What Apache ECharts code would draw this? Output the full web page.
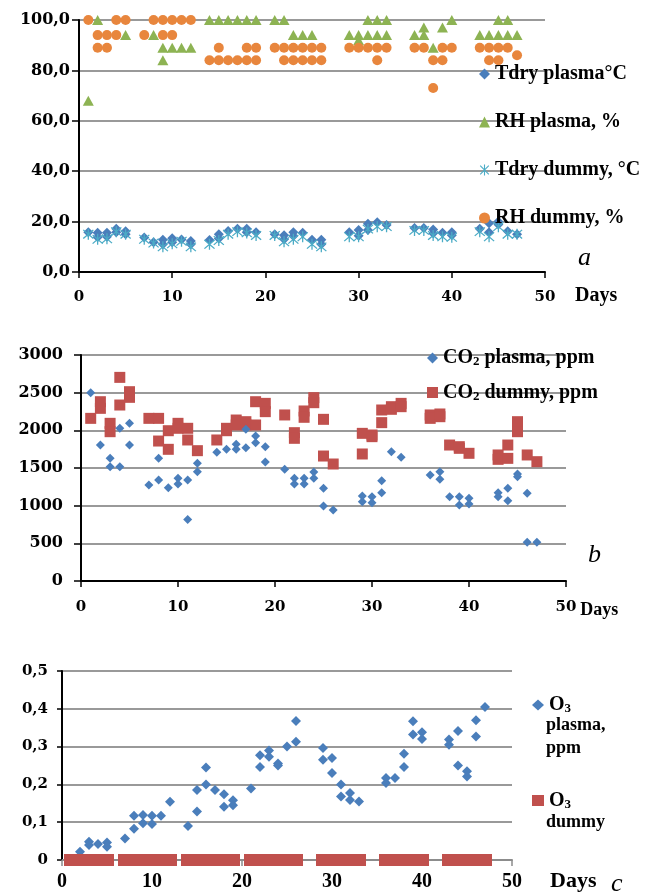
<!DOCTYPE html>
<html><head><meta charset="utf-8">
<script src="https://cdn.jsdelivr.net/npm/echarts@6/dist/echarts.min.js"></script>
<style>html,body{margin:0;padding:0;background:#fff}#c{width:654px;height:895px;background:#fff}</style>
</head><body><div id="c"></div>
<script>
// ---------- DATA ----------
const xTicks = [0, 10, 20, 30, 40, 50];
const measureDays = [1,2,3,4,5,7,8,9,10,11,12,14,15,16,17,18,19,21,22,23,24,25,26,29,30,31,32,33,36,37,38,39,40,43,44,45,46,47];

// panel a
const tdryPlasma = [[1,15.8],[2,15.6],[2,13.8],[3,15.6],[3,14],[4,17.2],[4,15.8],[5,16.2],[5,15],[7,13.7],[8,11.8],[9,12.8],[9,11],[10,13.4],[10,11.8],[11,12.9],[12,12.3],[12,11],[14,12.7],[15,15],[15,13.3],[16,16.3],[17,17.2],[18,17.2],[18,15.8],[19,15.8],[21,15],[22,14.6],[22,13],[23,15.8],[23,14.3],[24,15.6],[25,12.8],[26,12.8],[26,11],[29,15.8],[30,16.7],[30,14.4],[31,19.1],[31,16.7],[32,19.7],[33,18.7],[36,17.5],[37,17.5],[38,16.9],[38,15.4],[39,15.6],[40,15.8],[40,14.6],[43,17.2],[44,19.3],[44,15.8],[45,20],[45,18.8],[46,16.2],[47,15]];
const rhPlasma = [[1,68],[2,100],[5,94],[8,94],[9,89],[9,84],[10,89],[11,89],[12,89],[14,100],[15,100],[16,100],[17,100],[18,100],[19,100],[21,100],[22,100],[23,94],[24,94],[25,94],[29,94],[30,94],[30,92],[31,100],[31,94],[32,100],[32,94],[33,100],[33,94],[36,94],[37,97],[37,94],[38,89],[39,97],[40,100],[43,94],[44,94],[45,100],[45,94],[46,100],[46,94],[47,94]];
const tdryDummy = [[1,15],[2,13],[3,13.2],[4,16],[5,15],[7,13],[8,11.5],[9,10],[10,11.2],[11,12.2],[12,10],[14,11],[15,12.5],[16,15],[17,16],[18,15.5],[19,14.5],[21,14.5],[22,12],[23,13],[24,14],[25,11],[26,10],[29,14],[30,14],[31,17],[32,18],[33,18],[36,16.5],[37,16.5],[38,14.5],[39,14],[40,13.8],[43,16],[44,14],[45,18],[46,15],[47,15]];
const rhDummy = [[1,100],[2,94],[2,89],[3,94],[3,89],[4,100],[4,94],[5,100],[7,94],[8,100],[9,100],[9,94],[10,100],[10,94],[11,100],[12,100],[14,84],[15,89],[15,84],[16,84],[17,84],[18,89],[18,84],[19,89],[19,84],[21,89],[22,89],[22,84],[23,89],[23,84],[24,89],[24,84],[25,89],[25,84],[26,89],[26,84],[29,89],[30,89],[31,89],[32,89],[32,84],[33,89],[36,89],[37,89],[38,84],[38,73],[39,89],[39,84],[40,89],[43,89],[44,89],[44,84],[45,89],[45,84],[46,89],[47,86]];

// panel b
const co2Plasma = [[1,2500],[2,1805],[3,1628],[3,1518],[4,2027],[4,1518],[5,2093],[5,1805],[7,1274],[8,1628],[8,1341],[9,1239],[10,1363],[10,1288],[11,1341],[11,818],[12,1562],[12,1451],[14,1708],[15,1748],[16,1814],[16,1748],[17,2013],[17,1770],[18,1925],[18,1836],[19,1783],[19,1580],[21,1482],[22,1363],[22,1288],[23,1363],[23,1288],[24,1447],[24,1363],[25,1230],[25,995],[26,942],[29,1128],[29,1053],[30,1119],[30,1040],[31,1332],[31,1172],[32,1717],[33,1642],[36,1407],[37,1451],[37,1350],[38,1119],[39,1119],[39,1009],[40,1097],[40,1022],[43,1172],[43,1119],[44,1230],[44,1066],[45,1420],[45,1385],[46,1164],[46,513],[47,513]];
const co2Dummy = [[1,2159],[2,2380],[2,2292],[3,2093],[3,1982],[4,2703],[4,2336],[5,2513],[5,2438],[7,2159],[8,2159],[8,1858],[9,1995],[9,1748],[10,2093],[10,2027],[11,2027],[11,1872],[12,1730],[14,1872],[15,2027],[15,1995],[16,2137],[16,2071],[17,2115],[17,2071],[18,2380],[18,2071],[19,2358],[19,2248],[21,2204],[22,1969],[22,1894],[23,2257],[23,2173],[24,2434],[24,2367],[25,2146],[25,1659],[26,1553],[29,1960],[29,1686],[30,1938],[30,1916],[31,2270],[31,2102],[32,2314],[32,2279],[33,2358],[33,2314],[36,2204],[36,2159],[37,2217],[37,2181],[38,1805],[39,1783],[39,1761],[40,1695],[43,1673],[43,1615],[44,1805],[44,1628],[45,2115],[45,1982],[46,1673],[47,1584]];

// panel c
const o3Plasma = [[2,0.022],[3,0.048],[3,0.04],[4,0.042],[5,0.046],[5,0.035],[7,0.057],[8,0.117],[8,0.083],[9,0.119],[9,0.097],[10,0.117],[10,0.095],[11,0.117],[12,0.154],[14,0.09],[15,0.185],[15,0.128],[16,0.245],[16,0.2],[17,0.185],[18,0.174],[18,0.141],[19,0.158],[19,0.145],[21,0.189],[22,0.277],[22,0.246],[23,0.29],[23,0.273],[24,0.255],[24,0.25],[25,0.3],[26,0.368],[26,0.313],[29,0.296],[29,0.265],[30,0.27],[30,0.23],[31,0.2],[31,0.168],[32,0.177],[32,0.159],[33,0.155],[36,0.217],[36,0.204],[37,0.217],[38,0.281],[38,0.246],[39,0.367],[39,0.332],[40,0.338],[40,0.32],[43,0.319],[43,0.305],[44,0.341],[44,0.25],[45,0.235],[45,0.221],[46,0.37],[46,0.327],[47,0.405]];
const o3DummyValues = measureDays.map(() => 0);
const o3Dummy = measureDays.map((d, i) => [d, o3DummyValues[i]]);

// ---------- CHART ----------
const SERIF = 'Liberation Serif';
const WIDE = 'DejaVu Serif';
const GRIDCOLOR = '#999999';
const ASTER = 'path://M9,0 L11,0 L11,20 L9,20 Z M1.5,2.9 L2.9,1.5 L18.5,17.1 L17.1,18.5 Z M17.1,1.5 L18.5,2.9 L2.9,18.5 L1.5,17.1 Z';
const gridLine = () => ({show: true, lineStyle: {color: GRIDCOLOR, width: 2, type: 'solid'}});
const blackLine = () => ({show: true, onZero: false, lineStyle: {color: '#000', width: 2}});
const subRich = {
  n: {fontFamily: SERIF, fontWeight: 'bold', fontSize: 20, color: '#000'},
  s: {fontFamily: SERIF, fontWeight: 'bold', fontSize: 13, color: '#000', padding: [8, 0, 0, 0]}
};

function xAxisCfg(gi, opts) {
  return {
    gridIndex: gi, type: 'value', min: 0, max: 50, interval: 10,
    axisLine: opts.line || blackLine(),
    axisTick: {show: true, length: 6, lineStyle: {color: opts.tickColor || '#000', width: 1.5}},
    splitLine: {show: false},
    axisLabel: {fontFamily: opts.font, fontWeight: 'bold', fontSize: opts.size, color: '#000', margin: opts.margin,
      formatter: v => xTicks.includes(v) ? String(v) : ''},
    name: 'Days', nameLocation: 'end', nameGap: opts.nameGap,
    nameTextStyle: {fontFamily: SERIF, fontWeight: 'bold', fontSize: opts.nameSize, color: '#000',
      align: 'left', verticalAlign: 'top', padding: [opts.namePad, 0, 0, 0]}
  };
}

const option = {
  animation: false,
  grid: [
    {left: 79, top: 20, width: 466, height: 252},
    {left: 81, top: 355, width: 485, height: 226},
    {left: 62, top: 671, width: 450, height: 189}
  ],
  xAxis: [
    xAxisCfg(0, {font: WIDE, size: 15, margin: 18, nameGap: 30, nameSize: 20, namePad: 14}),
    xAxisCfg(1, {font: WIDE, size: 15, margin: 19, nameGap: 12, nameSize: 18, namePad: 20}),
    xAxisCfg(2, {font: SERIF, size: 20, margin: 12, nameGap: 38, nameSize: 22, namePad: 10,
      line: {show: true, onZero: false, lineStyle: {color: '#8c8c8c', width: 2}}, tickColor: '#8c8c8c'})
  ],
  yAxis: [
    {gridIndex: 0, type: 'value', min: 0, max: 100, interval: 20,
      axisLine: blackLine(), axisTick: {show: true, length: 7, lineStyle: {color: '#000', width: 1.5}},
      splitLine: gridLine(),
      axisLabel: {fontFamily: WIDE, fontWeight: 'bold', fontSize: 16, color: '#000', margin: 9,
        formatter: v => v.toFixed(1).replace('.', ',')}},
    {gridIndex: 1, type: 'value', min: 0, max: 3000, interval: 500,
      axisLine: blackLine(), axisTick: {show: true, length: 7, lineStyle: {color: '#000', width: 1.5}},
      splitLine: gridLine(),
      axisLabel: {fontFamily: WIDE, fontWeight: 'bold', fontSize: 16, color: '#000', margin: 18,
        formatter: v => String(v)}},
    {gridIndex: 2, type: 'value', min: 0, max: 0.5, interval: 0.1,
      axisLine: blackLine(), axisTick: {show: true, length: 5, lineStyle: {color: '#000', width: 1.5}},
      splitLine: gridLine(),
      axisLabel: {fontFamily: WIDE, fontWeight: 'bold', fontSize: 15, color: '#000', margin: 14,
        formatter: v => v === 0 ? '0' : (Math.round(v * 10) / 10).toFixed(1).replace('.', ',')}}
  ],
  legend: [
    {data: [{name: 'Tdry plasma°C', icon: 'diamond'}, {name: 'RH plasma, %', icon: 'triangle'},
            {name: 'Tdry dummy, °C', icon: ASTER}, {name: 'RH dummy, %', icon: 'circle'}],
     orient: 'vertical', left: 474, top: 59, itemWidth: 11, itemHeight: 11, itemGap: 28, selectedMode: false,
     textStyle: {fontFamily: SERIF, fontWeight: 'bold', fontSize: 20, color: '#000'}},
    {data: [{name: 'CO₂ plasma, ppm', icon: 'diamond'}, {name: 'CO₂ dummy, ppm', icon: 'rect'}],
     orient: 'vertical', left: 422, top: 343, itemWidth: 11, itemHeight: 11, itemGap: 14, selectedMode: false,
     formatter: n => '{n|CO}{s|2}{n|' + n.replace('CO₂', '') + '}',
     textStyle: {fontFamily: SERIF, fontWeight: 'bold', fontSize: 20, color: '#000', rich: subRich}},
    {data: [{name: 'O₃ plasma, ppm', icon: 'diamond'}, {name: 'O₃ dummy', icon: 'rect'}],
     orient: 'vertical', left: 527, top: 690, itemWidth: 12, itemHeight: 11, itemGap: 75, selectedMode: false,
     formatter: n => '{n|O}{s|3}',
     textStyle: {fontFamily: SERIF, fontWeight: 'bold', fontSize: 20, color: '#000', rich: subRich}}
  ],
  graphic: [
    {type: 'text', style: {x: 546, y: 725, text: 'plasma,', font: 'bold 18px "Liberation Serif"', fill: '#000', textVerticalAlign: 'middle'}},
    {type: 'text', style: {x: 546, y: 748, text: 'ppm', font: 'bold 18px "Liberation Serif"', fill: '#000', textVerticalAlign: 'middle'}},
    {type: 'text', style: {x: 546, y: 822, text: 'dummy', font: 'bold 18px "Liberation Serif"', fill: '#000', textVerticalAlign: 'middle'}},
    {type: 'text', style: {x: 578, y: 258, text: 'a', font: 'italic 26px "Liberation Serif"', fill: '#000', textVerticalAlign: 'middle'}},
    {type: 'text', style: {x: 588, y: 555, text: 'b', font: 'italic 26px "Liberation Serif"', fill: '#000', textVerticalAlign: 'middle'}},
    {type: 'text', style: {x: 611, y: 884, text: 'c', font: 'italic 26px "Liberation Serif"', fill: '#000', textVerticalAlign: 'middle'}}
  ],
  series: [
    {name: 'Tdry plasma°C', type: 'scatter', xAxisIndex: 0, yAxisIndex: 0, data: tdryPlasma, z: 3,
     symbol: 'diamond', symbolSize: 10, itemStyle: {color: '#4a7ebb', opacity: 1}},
    {name: 'RH plasma, %', type: 'scatter', xAxisIndex: 0, yAxisIndex: 0, data: rhPlasma, z: 3,
     symbol: 'triangle', symbolSize: [11, 10], itemStyle: {color: '#8db353', opacity: 1}},
    {name: 'Tdry dummy, °C', type: 'scatter', xAxisIndex: 0, yAxisIndex: 0, data: tdryDummy, z: 3,
     symbol: ASTER, symbolSize: 11, itemStyle: {color: '#4bacc6', opacity: 1}},
    {name: 'RH dummy, %', type: 'scatter', xAxisIndex: 0, yAxisIndex: 0, data: rhDummy, z: 3,
     symbol: 'circle', symbolSize: 10, itemStyle: {color: '#e8863d', opacity: 1}},
    {name: 'CO₂ plasma, ppm', type: 'scatter', xAxisIndex: 1, yAxisIndex: 1, data: co2Plasma, z: 4,
     symbol: 'diamond', symbolSize: 9, itemStyle: {color: '#4a7ebb', opacity: 1}},
    {name: 'CO₂ dummy, ppm', type: 'scatter', xAxisIndex: 1, yAxisIndex: 1, data: co2Dummy, z: 3,
     symbol: 'rect', symbolSize: 11, itemStyle: {color: '#c0504d', opacity: 1}},
    {name: 'O₃ plasma, ppm', type: 'scatter', xAxisIndex: 2, yAxisIndex: 2, data: o3Plasma, z: 3,
     symbol: 'diamond', symbolSize: 10, itemStyle: {color: '#4a7ebb', opacity: 1}},
    {name: 'O₃ dummy', type: 'scatter', xAxisIndex: 2, yAxisIndex: 2, data: o3Dummy, z: 3,
     symbol: 'rect', symbolSize: [14, 12], itemStyle: {color: '#c0504d', opacity: 1}}
  ]
};
const chart = echarts.init(document.getElementById('c'));
chart.setOption(option);
</script></body></html>
